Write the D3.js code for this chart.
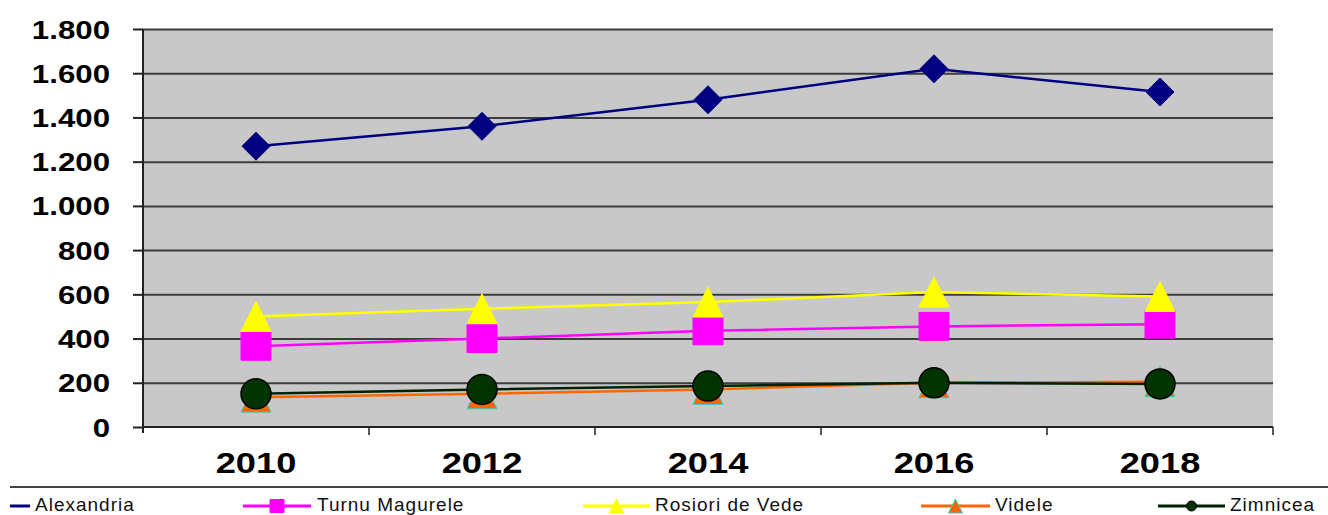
<!DOCTYPE html>
<html lang="en">
<head>
  <meta charset="UTF-8" />
  <title>Chart D3</title>
  <script src="https://d3js.org/d3.v7.min.js"></script>
  <style>
    body { margin: 0; background: #fff; }
    svg { display: block; font-family: Arial, "Liberation Sans", sans-serif; }
  </style>
</head>
<body>
<svg id="chart" width="1328" height="515"></svg>
<script>
// == DATA ==
const years = ["2010", "2012", "2014", "2016", "2018"];
const alexandria = [1270, 1360, 1480, 1620, 1515];
const turnuMagurele = [365, 400, 435, 455, 465];
const rosioriDeVede = [500, 535, 565, 610, 590];
const videle = [135, 150, 170, 200, 205];
const zimnicea = [150, 170, 185, 200, 195];
const yTicks = [0, 200, 400, 600, 800, 1000, 1200, 1400, 1600, 1800];

const series = [
  { name: "Alexandria", values: alexandria, color: "#000080", marker: "diamond", fill: "#000080", stroke: "#000080" },
  { name: "Turnu Magurele", values: turnuMagurele, color: "#ff00ff", marker: "square", fill: "#ff00ff", stroke: "#ff00ff" },
  { name: "Rosiori de Vede", values: rosioriDeVede, color: "#ffff00", marker: "triangle", fill: "#ffff00", stroke: "#ffff00" },
  { name: "Videle", values: videle, color: "#ff6600", marker: "triangle", fill: "#ff6600", stroke: "#33cccc" },
  { name: "Zimnicea", values: zimnicea, color: "#002200", marker: "circle", fill: "#003300", stroke: "#000000" }
];

const svg = d3.select("#chart");
const plotLeft = 143, plotRight = 1273, plotTop = 29, plotBottom = 427;

const x = d3.scaleBand().domain(years).range([plotLeft, plotRight]);
const y = d3.scaleLinear().domain([0, 1800]).range([plotBottom, plotTop]);
const cx = d => x(d) + x.bandwidth() / 2;

const fmt = d3.formatLocale({ decimal: ",", thousands: ".", grouping: [3], currency: ["", ""] }).format(",");

// plot area
svg.append("rect")
  .attr("x", plotLeft).attr("y", plotTop)
  .attr("width", plotRight - plotLeft).attr("height", plotBottom - plotTop)
  .attr("fill", "#c8c8c8");

// gridlines
svg.append("g")
  .attr("transform", `translate(${plotLeft},0)`)
  .call(d3.axisLeft(y).tickValues(yTicks.slice(1)).tickSize(-(plotRight - plotLeft)).tickFormat(""))
  .call(g => g.select(".domain").remove())
  .call(g => g.selectAll("line").attr("stroke", "#3c3c3c").attr("stroke-width", 2));

// y axis
svg.append("g")
  .attr("transform", `translate(${plotLeft},0)`)
  .call(d3.axisLeft(y).tickValues(yTicks).tickSize(10).tickFormat(fmt))
  .call(g => g.select(".domain").attr("d", `M0,${plotTop}V${plotBottom + 6}`).attr("stroke", "#222").attr("stroke-width", 2))
  .call(g => g.selectAll("line").attr("stroke", "#222").attr("stroke-width", 2))
  .call(g => g.selectAll("text")
    .attr("x", -33 / 1.25)
    .attr("dy", "0.36em")
    .attr("transform", "scale(1.25,1)")
    .attr("fill", "#000")
    .style("font-size", "25px")
    .style("font-weight", "bold")
    .style("font-family", "Arial, 'Liberation Sans', sans-serif"));

// x axis
svg.append("g")
  .attr("transform", `translate(0,${plotBottom})`)
  .call(d3.axisBottom(x).tickSize(0))
  .call(g => g.select(".domain").attr("d", `M${plotLeft},0H${plotRight}`).attr("stroke", "#222").attr("stroke-width", 2))
  .call(g => g.selectAll("text")
    .attr("y", 46)
    .attr("dy", 0)
    .attr("transform", "scale(1.25,1)")
    .attr("fill", "#000")
    .style("font-size", "29px")
    .style("font-weight", "bold")
    .style("font-family", "Arial, 'Liberation Sans', sans-serif"));

// category boundary ticks
const bounds = years.map(d => x(d)).concat([x.range()[1]]);
svg.append("g").selectAll("line")
  .data(bounds.slice(1))
  .join("line")
  .attr("x1", d => d).attr("x2", d => d)
  .attr("y1", plotBottom).attr("y2", plotBottom + 8)
  .attr("stroke", "#222").attr("stroke-width", 1.5);

// markers
function markerPath(type, s) {
  if (type === "diamond") return `M0,${-s}L${s},0L0,${s}L${-s},0Z`;
  if (type === "square") return `M${-s},${-s * 0.93}H${s}V${s * 0.93}H${-s}Z`;
  if (type === "triangle") return `M0,${-s}L${s},${s}H${-s}Z`;
  return d3.symbol(d3.symbolCircle, Math.PI * s * s)();
}

const line = d3.line().x((d, i) => cx(years[i])).y(d => y(d));

series.forEach(s => {
  svg.append("path")
    .attr("d", line(s.values))
    .attr("fill", "none")
    .attr("stroke", s.color)
    .attr("stroke-width", 2.5);
});

const markerSize = { diamond: 14, square: 15, triangle: 15, circle: 15 };
series.forEach(s => {
  svg.append("g").selectAll("path")
    .data(s.values)
    .join("path")
    .attr("transform", (d, i) => `translate(${cx(years[i])},${y(d)})`)
    .attr("d", markerPath(s.marker, markerSize[s.marker]))
    .attr("fill", s.fill)
    .attr("stroke", s.stroke)
    .attr("stroke-width", s.marker === "circle" ? 1.5 : 1);
});

// legend separator
svg.append("line")
  .attr("x1", 10).attr("x2", 1328)
  .attr("y1", 487).attr("y2", 487)
  .attr("stroke", "#444").attr("stroke-width", 2);

// legend
const legendItems = [
  { x1: 10, x2: 30, tx: 35, marker: false },
  { x1: 243, x2: 311, tx: 317, marker: true },
  { x1: 583, x2: 650, tx: 655, marker: true },
  { x1: 921, x2: 990, tx: 995, marker: true },
  { x1: 1158, x2: 1225, tx: 1230, marker: true }
];
const legendSize = { diamond: 5, square: 7, triangle: 7, circle: 5 };
const ly = 506;
series.forEach((s, i) => {
  const it = legendItems[i];
  const g = svg.append("g");
  g.append("line")
    .attr("x1", it.x1).attr("x2", it.x2)
    .attr("y1", ly).attr("y2", ly)
    .attr("stroke", s.color).attr("stroke-width", 3);
  if (it.marker) {
    g.append("path")
      .attr("transform", `translate(${(it.x1 + it.x2) / 2},${ly})`)
      .attr("d", markerPath(s.marker, legendSize[s.marker]))
      .attr("fill", s.fill)
      .attr("stroke", s.stroke);
  }
  g.append("text")
    .attr("x", it.tx).attr("y", 511)
    .attr("fill", "#111")
    .style("font-size", "19px")
    .style("letter-spacing", "1px")
    .text(s.name);
});
</script>
</body>
</html>
